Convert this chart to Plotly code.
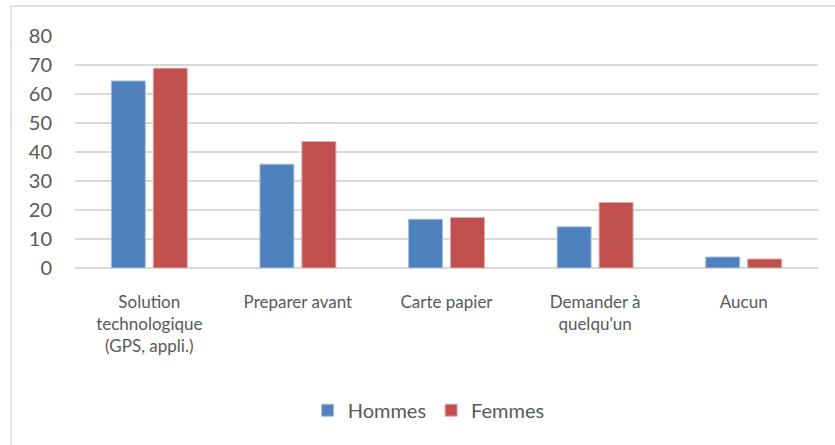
import plotly.graph_objects as go

categories = ["Solution<br>technologique<br>(GPS, appli.)", "Preparer avant", "Carte papier",
              "Demander à<br>quelqu'un", "Aucun"]
hommes = [64.5, 35.8, 16.8, 14.2, 3.8]
femmes = [68.9, 43.6, 17.4, 22.6, 3.1]
y_ticks = [0, 10, 20, 30, 40, 50, 60, 70, 80]

W, H = 835, 445
L, R, T, B = 75, 17, 36, 177
pw, ph = W - L - R, H - T - B

font = dict(family="Lato, 'Open Sans', sans-serif", size=18, color="#595959")

fig = go.Figure()
fig.add_bar(name="Hommes", x=categories, y=hommes, marker=dict(color="#4F81BD", line=dict(color="#a9c0df", width=1)))
fig.add_bar(name="Femmes", x=categories, y=femmes, marker=dict(color="#C0504D", line=dict(color="#dfa9a7", width=1)))

fig.update_layout(
    width=W, height=H,
    margin=dict(l=L, r=R, t=T, b=B),
    paper_bgcolor="white", plot_bgcolor="white",
    barmode="group", bargap=0.435, bargroupgap=0.19,
    font=font,
    legend=dict(orientation="h", x=0.476, xanchor="center", y=-0.613, yanchor="middle",
                font=dict(size=20, color="#595959"), itemwidth=30, traceorder="normal"),
    xaxis=dict(tickfont=dict(size=17), showline=False, ticks="", showgrid=False,
               tickangle=0, automargin=False, ticklabelstandoff=22),
    yaxis=dict(range=[0, 80], tickvals=y_ticks, showgrid=True, gridcolor="#d9d9d9", gridwidth=1.5,
               zeroline=True, zerolinecolor="#d9d9d9", zerolinewidth=1.5, ticks="",
               tickfont=dict(size=20), ticklabelstandoff=22, automargin=False),
    shapes=[dict(type="rect", xref="paper", yref="paper",
                 x0=(11 - L) / pw, x1=(W + 10 - L) / pw,
                 y0=-(H + 10 - T - ph) / ph, y1=(T + ph - 6) / ph,
                 line=dict(color="#d9d9d9", width=1.5), layer="below")],
)

fig.write_html("out.html", config={"displayModeBar": False},
               post_script="document.body.style.margin='0';")
